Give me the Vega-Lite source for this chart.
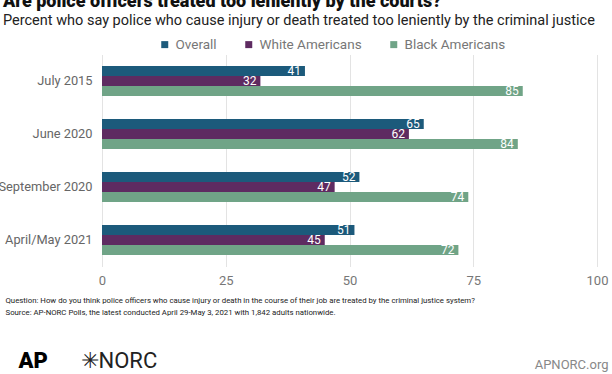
{
  "$schema": "https://vega.github.io/schema/vega-lite/v6.json",
  "width": 495,
  "height": 212,
  "autosize": {"type": "none"},
  "padding": {"left": 102, "top": 54.5, "right": 15, "bottom": 107.5},
  "background": "white",
  "config": {"font": "Roboto", "view": {"stroke": null}},
  "title": {
    "text": "Are police officers treated too leniently by the courts?",
    "subtitle": "Percent who say police who cause injury or death treated too leniently by the criminal justice",
    "anchor": "start",
    "frame": "group",
    "dx": -99,
    "fontSize": 18,
    "fontWeight": 900,
    "color": "#111",
    "subtitleFontSize": 14.5,
    "subtitleColor": "#222",
    "subtitlePadding": 3,
    "offset": 10
  },
  "data": {
    "values": [
      {"period": "July 2015", "group": "Overall", "value": 41},
      {"period": "July 2015", "group": "White Americans", "value": 32},
      {"period": "July 2015", "group": "Black Americans", "value": 85},
      {"period": "June 2020", "group": "Overall", "value": 65},
      {"period": "June 2020", "group": "White Americans", "value": 62},
      {"period": "June 2020", "group": "Black Americans", "value": 84},
      {"period": "September 2020", "group": "Overall", "value": 52},
      {"period": "September 2020", "group": "White Americans", "value": 47},
      {"period": "September 2020", "group": "Black Americans", "value": 74},
      {"period": "April/May 2021", "group": "Overall", "value": 51},
      {"period": "April/May 2021", "group": "White Americans", "value": 45},
      {"period": "April/May 2021", "group": "Black Americans", "value": 72}
    ]
  },
  "layer": [
    {
      "mark": {"type": "bar"},
      "encoding": {
        "y": {
          "field": "period", "type": "nominal",
          "sort": ["July 2015", "June 2020", "September 2020", "April/May 2021"],
          "scale": {"paddingInner": 0.43, "paddingOuter": 0.215},
          "axis": {
            "title": "AP",
            "titleAngle": 0,
            "titleFontSize": 22,
            "titleFontWeight": 900,
            "titleColor": "#000",
            "titleX": -84,
            "titleY": 305.5,
            "titleAlign": "left",
            "titleBaseline": "middle",
            "domain": false,
            "ticks": false,
            "labelFontSize": 12.8,
            "labelColor": "#666",
            "labelPadding": 10
          }
        },
        "yOffset": {
          "field": "group",
          "sort": ["Overall", "White Americans", "Black Americans"]
        },
        "x": {
          "field": "value", "type": "quantitative",
          "scale": {"domain": [0, 100]},
          "axis": {
            "values": [0, 25, 50, 75, 100],
            "labelFlush": false,
            "title": [
              "Question: How do you think police officers who cause injury or death in the course of their job are treated by the criminal justice system?",
              "Source: AP-NORC Polls, the latest conducted April 29-May 3, 2021 with 1,842 adults nationwide."
            ],
            "titleFontSize": 7.8,
            "titleFontWeight": "normal",
            "titleColor": "#222",
            "titleX": -97,
            "titleY": 30,
            "titleAlign": "left",
            "titleBaseline": "top",
            "titleLineHeight": 12,
            "domain": false,
            "ticks": false,
            "gridColor": "#e3e3e3",
            "labelFontSize": 13,
            "labelColor": "#777",
            "labelPadding": 8
          }
        },
        "color": {
          "field": "group", "type": "nominal",
          "scale": {
            "domain": ["Overall", "White Americans", "Black Americans"],
            "range": ["#1c5a7b", "#5e2b61", "#70a487"]
          },
          "legend": {
            "title": null,
            "orient": "none",
            "legendX": 56,
            "legendY": -17,
            "direction": "horizontal",
            "symbolType": "square",
            "symbolSize": 49,
            "symbolStrokeWidth": 0,
            "labelFontSize": 13.5,
            "labelColor": "#777",
            "columnPadding": 25
          }
        }
      }
    },
    {
      "mark": {"type": "text", "align": "right", "baseline": "middle", "dx": -4, "color": "white", "fontSize": 12},
      "encoding": {
        "y": {
          "field": "period", "type": "nominal",
          "sort": ["July 2015", "June 2020", "September 2020", "April/May 2021"],
          "axis": {
            "orient": "right",
            "title": "✳NORC",
            "titleAngle": 0,
            "titleFontSize": 22,
            "titleFontWeight": "normal",
            "titleColor": "#222",
            "titleX": -517,
            "titleY": 305.5,
            "titleAlign": "left",
            "titleBaseline": "middle",
            "labels": false,
            "domain": false,
            "ticks": false,
            "grid": false
          }
        },
        "yOffset": {
          "field": "group",
          "sort": ["Overall", "White Americans", "Black Americans"]
        },
        "x": {
          "field": "value", "type": "quantitative",
          "scale": {"domain": [0, 100]},
          "axis": {
            "orient": "top",
            "title": "APNORC.org",
            "titleFontSize": 13,
            "titleFontWeight": "normal",
            "titleColor": "#888",
            "titleX": 506,
            "titleY": 309.5,
            "titleAlign": "right",
            "titleBaseline": "middle",
            "labels": false,
            "domain": false,
            "ticks": false,
            "grid": false
          }
        },
        "text": {"field": "value", "type": "quantitative"}
      }
    }
  ],
  "resolve": {"axis": {"x": "independent", "y": "independent"}}
}
